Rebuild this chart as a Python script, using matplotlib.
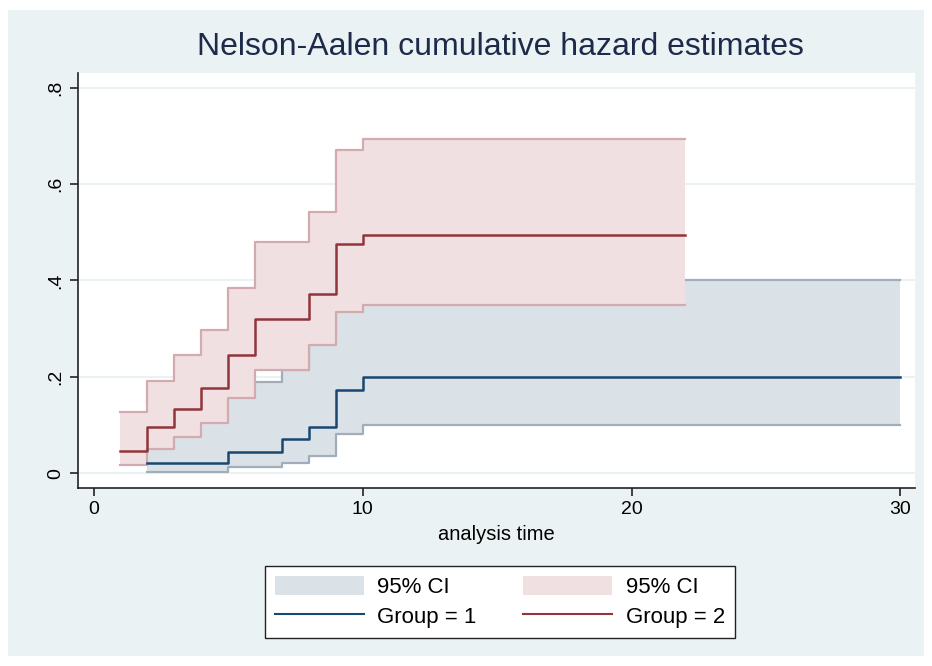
#Nelson-Aalen cumulative hazard plot, Stata style
import matplotlib.pyplot as plt
from matplotlib.patches import Rectangle

plt.rcParams['font.family'] = ['Liberation Sans', 'DejaVu Sans']

#group 1 estimates (step values from each event time on)
t1 = [2, 5, 7, 8, 9, 10, 30]
h1 = [0.0215, 0.044, 0.070, 0.095, 0.172, 0.200, 0.200]
lo1 = [0.002, 0.012, 0.021, 0.035, 0.082, 0.099, 0.099]
hi1 = [0.15, 0.19, 0.214, 0.28, 0.36, 0.402, 0.402]

#group 2 estimates
t2 = [1, 2, 3, 4, 5, 6, 8, 9, 10, 22]
h2 = [0.046, 0.095, 0.134, 0.176, 0.246, 0.321, 0.371, 0.475, 0.494, 0.494]
lo2 = [0.0166, 0.049, 0.075, 0.105, 0.155, 0.215, 0.266, 0.335, 0.350, 0.350]
hi2 = [0.126, 0.192, 0.245, 0.297, 0.385, 0.480, 0.543, 0.671, 0.693, 0.693]

xticks = [0, 10, 20, 30]
yticks = [0, 0.2, 0.4, 0.6, 0.8]
ylabels = ['0', '.2', '.4', '.6', '.8']

bg = '#EAF2F3'
navy = '#1A476F'
maroon = '#90353B'
fill1, edge1 = '#DAE2E8', '#A2ADBA'
fill2, edge2 = '#F0E0E2', '#D3AAAE'

fig = plt.figure(figsize=(9.32, 6.66), dpi=100, facecolor='white')
fig.patches.append(Rectangle((8/932, 10/666), 1 - 16/932, 1 - 20/666,
                             transform=fig.transFigure, facecolor=bg,
                             edgecolor='none', zorder=-10))

ax = fig.add_axes([78/932, 178/666, 837/932, 415/666])
ax.set_facecolor('white')

# CI bands (group 2 drawn over group 1)
ax.fill_between(t1, lo1, hi1, step='post', color=fill1, lw=0, zorder=1)
ax.step(t1, lo1, where='post', color=edge1, lw=1.6, zorder=1.1)
ax.step(t1, hi1, where='post', color=edge1, lw=1.6, zorder=1.1)
ax.fill_between(t2, lo2, hi2, step='post', color=fill2, lw=0, zorder=2)
ax.step(t2, lo2, where='post', color=edge2, lw=1.6, zorder=2.1)
ax.step(t2, hi2, where='post', color=edge2, lw=1.6, zorder=2.1)

# hazard lines
ax.step(t1, h1, where='post', color=navy, lw=1.8, zorder=3)
ax.step(t2, h2, where='post', color=maroon, lw=1.8, zorder=4)

ax.set_xlim(-0.58, 30.54)
ax.set_ylim(-0.031, 0.831)
ax.set_xticks(xticks)
ax.set_yticks(yticks)
ax.set_yticklabels(ylabels, rotation=90, va='center')
ax.tick_params(axis='both', direction='out', length=6, width=1.2,
               labelsize=14, color='#222222', labelcolor='black')
ax.tick_params(axis='y', pad=4)
ax.grid(axis='y', color=bg, lw=1.5, zorder=0.5)
ax.set_axisbelow(True)
for side in ['top', 'right']:
    ax.spines[side].set_visible(False)
for side in ['left', 'bottom']:
    ax.spines[side].set_color('#222222')
    ax.spines[side].set_linewidth(1.2)

ax.set_xlabel('analysis time', fontsize=14.5, labelpad=5)
fig.text(500/932, 1 - 47/666, 'Nelson-Aalen cumulative hazard estimates',
         ha='center', va='center', fontsize=23, color='#1E2A4A')

# legend
h_ci1 = Rectangle((0, 0), 1, 1, facecolor=fill1, edgecolor='none')
h_ci2 = Rectangle((0, 0), 1, 1, facecolor=fill2, edgecolor='none')
h_l1, = ax.plot([], [], color=navy, lw=1.5)
h_l2, = ax.plot([], [], color=maroon, lw=1.5)
leg = fig.legend([h_ci1, h_l1, h_ci2, h_l2],
                 ['95% CI', 'Group = 1', '95% CI', 'Group = 2'],
                 ncol=2, loc='center', bbox_to_anchor=(500/932, 1 - 602/666),
                 fontsize=16, frameon=True, fancybox=False, framealpha=1,
                 facecolor='white', handlelength=4.0, handleheight=0.9,
                 columnspacing=2.1, handletextpad=0.6, borderpad=0.45,
                 labelspacing=0.35)
leg.get_frame().set_edgecolor('#222222')
leg.get_frame().set_linewidth(1.0)

fig.savefig('out.png', dpi=100, facecolor=fig.get_facecolor())
